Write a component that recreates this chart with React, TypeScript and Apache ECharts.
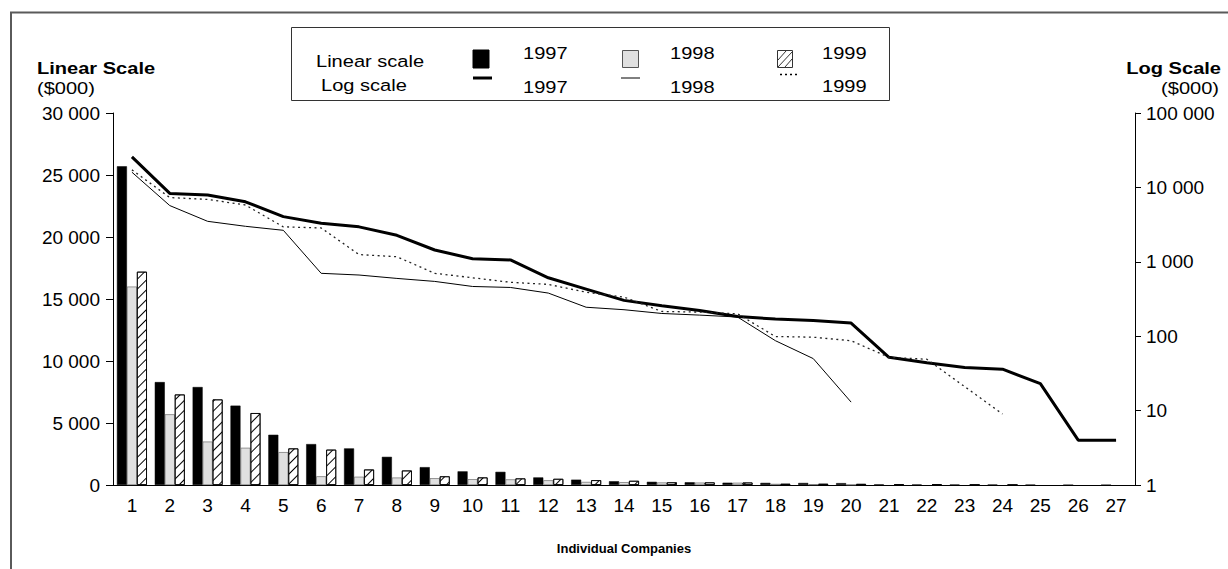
import React, { useEffect, useRef } from "react";
import * as echarts from "echarts";

// Company ranks along the x axis
const companies = [
  "1", "2", "3", "4", "5", "6", "7", "8", "9", "10", "11", "12", "13", "14",
  "15", "16", "17", "18", "19", "20", "21", "22", "23", "24", "25", "26", "27",
];

// Values in $000 per company, by year (null = no company at that rank)
const sales1997 = [
  25700, 8300, 7900, 6400, 4050, 3300, 2950, 2270, 1440, 1100, 1060, 610, 430,
  303, 257, 222, 184, 170, 163, 150, 52, 44, 38, 36, 23, 4, 4,
];
const sales1998 = [
  16000, 5700, 3500, 3000, 2650, 700, 664, 598, 545, 466, 452, 380, 245, 227,
  202, 192, 181, 87, 50, 13, null, null, null, null, null, null, null,
];
const sales1999 = [
  17200, 7300, 6900, 5800, 2950, 2850, 1250, 1170, 700, 610, 530, 497, 390,
  336, 215, 211, 200, 99, 97, 87, 52, 49, 21, 9, null, null, null,
];

// Axis ranges
const linearMax = 30000;
const linearStep = 5000;
const logMin = 1;
const logMax = 100000;

const FONT = "'Liberation Sans', Arial, Helvetica, sans-serif";
const STRETCH = 1.18; // wide lettering used for titles and legend

const withSpaces = (v: number) =>
  String(Math.round(v)).replace(/\B(?=(\d{3})+(?!\d))/g, " ");

export default function App() {
  const ref = useRef<HTMLDivElement>(null);

  useEffect(() => {
    if (!ref.current) return;
    const chart = echarts.init(ref.current, undefined, { renderer: "svg" });

    const txt = (
      text: string,
      x: number,
      y: number,
      opts: { bold?: boolean; size?: number; align?: string; stretch?: number } = {}
    ) => ({
      type: "text",
      x,
      y,
      scaleX: opts.stretch ?? STRETCH,
      silent: true,
      style: {
        text,
        fill: "#000",
        font: `${opts.bold ? "bold " : ""}${opts.size ?? 17}px ${FONT}`,
        textAlign: opts.align ?? "left",
        textVerticalAlign: "middle",
      },
    });

    const seg = (x1: number, y1: number, x2: number, y2: number, width: number, dash?: number[]) => ({
      type: "line",
      silent: true,
      shape: { x1, y1, x2, y2 },
      style: { stroke: "#000", lineWidth: width, lineDash: dash },
    });

    chart.setOption({
      animation: false,
      backgroundColor: "#fff",
      textStyle: { fontFamily: FONT },
      grid: { left: 113, right: 93, top: 113, bottom: 84 },
      xAxis: {
        type: "category",
        data: companies,
        axisLine: { lineStyle: { color: "#000", width: 1 } },
        axisTick: { show: false },
        axisLabel: { color: "#000", fontSize: 19, margin: 11 },
      },
      yAxis: [
        {
          type: "value",
          position: "left",
          min: 0,
          max: linearMax,
          interval: linearStep,
          axisLine: { show: true, lineStyle: { color: "#000", width: 1 } },
          axisTick: { show: true, length: 7, lineStyle: { color: "#000" } },
          splitLine: { show: false },
          axisLabel: { color: "#000", fontSize: 19, margin: 13, formatter: withSpaces },
        },
        {
          type: "log",
          logBase: 10,
          position: "right",
          min: logMin,
          max: logMax,
          splitNumber: 5,
          axisLine: { show: true, lineStyle: { color: "#000", width: 1 } },
          axisTick: { show: true, length: 6, lineStyle: { color: "#000" } },
          minorTick: { show: false },
          splitLine: { show: false },
          axisLabel: { color: "#000", fontSize: 19, margin: 11, formatter: withSpaces },
        },
      ],
      series: [
        {
          name: "1997 linear",
          type: "bar",
          data: sales1997,
          barWidth: 10,
          barGap: "0%",
          itemStyle: { color: "#000", borderColor: "#000", borderWidth: 0.5 },
        },
        {
          name: "1998 linear",
          type: "bar",
          data: sales1998,
          barWidth: 10,
          barGap: "0%",
          itemStyle: { color: "#e0e0e0", borderColor: "#555", borderWidth: 0.6 },
        },
        {
          name: "1999 linear",
          type: "bar",
          data: sales1999,
          barWidth: 10,
          barGap: "0%",
          itemStyle: {
            color: "#fff",
            borderColor: "#000",
            borderWidth: 0.8,
            decal: {
              symbol: "rect",
              symbolSize: 1,
              color: "#000",
              backgroundColor: "#fff",
              dashArrayX: [1, 0],
              dashArrayY: [1, 5.5],
              rotation: -Math.PI / 4,
            },
          },
        },
        {
          name: "1997 log",
          type: "line",
          yAxisIndex: 1,
          data: sales1997,
          symbol: "none",
          lineStyle: { color: "#000", width: 3 },
          z: 5,
        },
        {
          name: "1998 log",
          type: "line",
          yAxisIndex: 1,
          data: sales1998,
          symbol: "none",
          lineStyle: { color: "#000", width: 1 },
          z: 5,
        },
        {
          name: "1999 log",
          type: "line",
          yAxisIndex: 1,
          data: sales1999,
          symbol: "none",
          lineStyle: { color: "#222", width: 1.3, type: [2, 3.5] },
          z: 5,
        },
      ],
      graphic: [
        // outer frame (top and left edges)
        {
          type: "polyline",
          silent: true,
          shape: { points: [[11, 569], [11, 12.5], [1228, 12.5]] },
          style: { stroke: "#5a5a5a", lineWidth: 2, fill: null },
        },
        // axis titles
        txt("Linear Scale", 37, 68, { bold: true }),
        txt("($000)", 37, 88),
        txt("Log Scale", 1221, 68, { bold: true, align: "right" }),
        txt("($000)", 1219, 88, { align: "right" }),
        txt("Individual Companies", 624, 548, { bold: true, size: 13, align: "center", stretch: 1 }),
        // legend box
        {
          type: "rect",
          silent: true,
          shape: { x: 291.5, y: 27.5, width: 598, height: 73 },
          style: { fill: "#fff", stroke: "#333", lineWidth: 1 },
        },
        txt("Linear scale", 316, 61),
        txt("Log scale", 321, 85),
        {
          type: "rect",
          silent: true,
          shape: { x: 473, y: 50, width: 16, height: 18 },
          style: { fill: "#000", stroke: "#000", lineWidth: 1 },
        },
        txt("1997", 523, 53),
        {
          type: "rect",
          silent: true,
          shape: { x: 622.5, y: 50.5, width: 16, height: 17 },
          style: { fill: "#e0e0e0", stroke: "#555", lineWidth: 1 },
        },
        txt("1998", 670, 53),
        {
          type: "rect",
          silent: true,
          shape: { x: 777.5, y: 50.5, width: 15, height: 17 },
          style: { fill: "#fff", stroke: "#333", lineWidth: 1 },
        },
        seg(778, 60, 786, 51, 0.8),
        seg(778, 67, 792, 52, 0.8),
        seg(785, 67, 792, 59, 0.8),
        txt("1999", 822, 53),
        seg(473, 78, 492, 78, 3),
        txt("1997", 523, 87),
        seg(621, 78, 640, 78, 1),
        txt("1998", 670, 87),
        seg(780, 74.5, 798, 74.5, 1.3, [2, 3]),
        txt("1999", 822, 86),
      ],
    });

    return () => chart.dispose();
  }, []);

  return (
    <div
      ref={ref}
      style={{ position: "fixed", left: 0, top: 0, width: 1228, height: 569, background: "#fff" }}
    />
  );
}
